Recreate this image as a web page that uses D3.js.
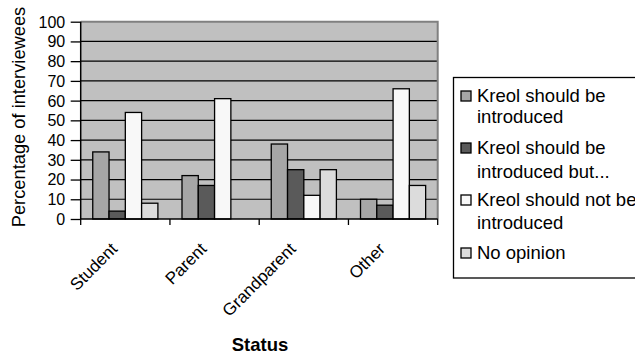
<!DOCTYPE html>
<html><head><meta charset="utf-8">
<script src="https://cdn.jsdelivr.net/npm/d3@7"></script>
<style>body{margin:0;background:#fff}text{font-family:"Liberation Sans",Arial,sans-serif}</style>
</head><body><svg id="c" width="635" height="357"></svg>
<script>
const categories = ["Student", "Parent", "Grandparent", "Other"];
const seriesNames = ["Kreol should be introduced", "Kreol should be introduced but...", "Kreol should not be introduced", "No opinion"];
const legendLines = [["Kreol should be", "introduced"], ["Kreol should be", "introduced but..."], ["Kreol should not be", "introduced"], ["No opinion"]];
// values per series, in category order
const seriesShould = [34, 22, 38, 10];
const seriesShouldBut = [4, 17, 25, 7];
const seriesShouldNot = [54, 61, 12, 66];
const seriesNoOpinion = [8, 0, 25, 17];
const yTicks = [0, 10, 20, 30, 40, 50, 60, 70, 80, 90, 100];
const colors = ["#a6a6a6", "#5a5a5a", "#f8f8f8", "#dcdcdc"];

const allSeries = [seriesShould, seriesShouldBut, seriesShouldNot, seriesNoOpinion];
const svg = d3.select("#c");
const L = 80.7, R = 437.7, T = 21.7, B = 219;

const x = d3.scaleBand().domain(categories).range([L, R]).paddingInner(0).paddingOuter(0);
const x1 = d3.scaleBand().domain(d3.range(4)).range([0, x.bandwidth()]).paddingOuter(0.74).paddingInner(0);
const y = d3.scaleLinear().domain([0, 100]).range([B, T]);

// background
svg.append("rect").attr("x", L).attr("y", T).attr("width", R - L).attr("height", B - T).attr("fill", "#c0c0c0");
// gridlines
svg.append("g").selectAll("line").data(yTicks.filter(d => d > 0 && d < 100)).join("line")
  .attr("x1", L).attr("x2", R).attr("y1", d => y(d)).attr("y2", d => y(d))
  .attr("stroke", "#000").attr("stroke-width", 1.2);
// plot border top/right
svg.append("path").attr("d", `M${L},${T}H${R}V${B}`).attr("fill", "none").attr("stroke", "#808080").attr("stroke-width", 2);

// bars
categories.forEach((c, ci) => {
  allSeries.forEach((s, si) => {
    const v = s[ci];
    if (v <= 0) return;
    svg.append("rect")
      .attr("x", x(c) + x1(si)).attr("width", x1.bandwidth())
      .attr("y", y(v)).attr("height", y(0) - y(v))
      .attr("fill", colors[si]).attr("stroke", "#000").attr("stroke-width", 1.3);
  });
});

// y axis
const ya = svg.append("g").attr("transform", `translate(${L},0)`)
  .call(d3.axisLeft(y).tickValues(yTicks).tickSize(10).tickPadding(5.5));
ya.select(".domain").attr("stroke", "#000").attr("stroke-width", 1.5).attr("d", `M0,${T}V${B}`);
ya.selectAll(".tick line").attr("stroke", "#000").attr("stroke-width", 1.3);
ya.selectAll(".tick text").attr("font-size", 16).attr("fill", "#000").attr("font-family", "Liberation Sans, Arial, sans-serif").attr("dy", "0.34em");

// x axis
const xa = svg.append("g").attr("transform", `translate(0,${B})`)
  .call(d3.axisBottom(x).tickSize(0).tickFormat(""));
xa.select(".domain").attr("stroke", "#000").attr("stroke-width", 1.5).attr("d", `M${L},0H${R}`);
// boundary ticks
svg.append("g").selectAll("line").data(d3.range(categories.length + 1)).join("line")
  .attr("x1", i => L + i * x.bandwidth()).attr("x2", i => L + i * x.bandwidth())
  .attr("y1", B).attr("y2", B + 6).attr("stroke", "#000").attr("stroke-width", 1.3);
// category labels rotated
svg.append("g").selectAll("text").data(categories).join("text")
  .attr("transform", d => `translate(${x(d) + x.bandwidth() / 2 - 7},${B + 31}) rotate(-45)`)
  .attr("text-anchor", "end").attr("font-size", 17).attr("fill", "#000").text(d => d);

// axis titles
svg.append("text").attr("x", 260).attr("y", 351).attr("text-anchor", "middle")
  .attr("font-size", 18.5).attr("font-weight", "bold").text("Status");
svg.append("text").attr("transform", `translate(25,117) rotate(-90)`).attr("text-anchor", "middle")
  .attr("font-size", 18.3).text("Percentage of interviewees");

// legend
const lg = svg.append("g");
lg.append("rect").attr("x", 453.5).attr("y", 77.5).attr("width", 200).attr("height", 200.5)
  .attr("fill", "#fff").attr("stroke", "#000").attr("stroke-width", 1.3);
const lineCenters = [[96, 117], [148, 172], [200, 223], [253]];
legendLines.forEach((lines, i) => {
  lg.append("rect").attr("x", 461).attr("y", lineCenters[i][0] - 5).attr("width", 10).attr("height", 10)
    .attr("fill", colors[i]).attr("stroke", "#000").attr("stroke-width", 1.3);
  lines.forEach((t, j) => {
    lg.append("text").attr("x", 477).attr("y", lineCenters[i][j]).attr("dy", "0.35em")
      .attr("font-size", 18.5).attr("fill", "#000").text(t);
  });
});
</script></body></html>
